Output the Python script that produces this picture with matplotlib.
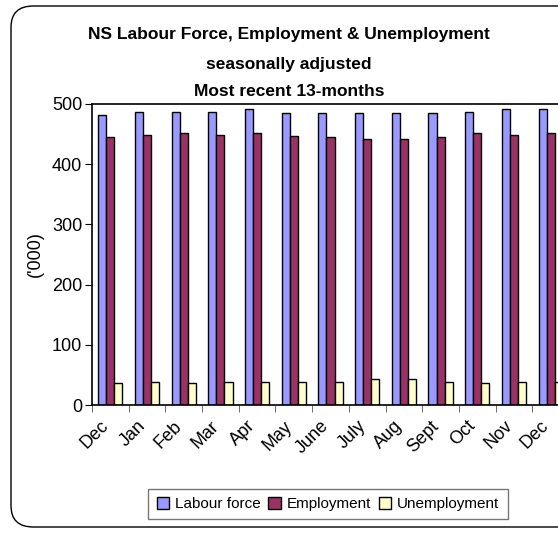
import numpy as np
import matplotlib
matplotlib.use("Agg")
from matplotlib import pyplot as plt
from matplotlib.patches import FancyBboxPatch, Patch

months = ["Dec", "Jan", "Feb", "Mar", "Apr", "May", "June", "July", "Aug", "Sept", "Oct", "Nov", "Dec"]
labour_force = [482, 487, 487, 487, 491, 485, 485, 485, 485, 485, 487, 491, 491]
employment = [446, 449, 452, 449, 452, 447, 446, 442, 442, 446, 452, 449, 452]
unemployment = [36, 39, 36, 39, 39, 39, 39, 43, 43, 39, 36, 39, 39]

plt.rcParams['font.family'] = ['Liberation Sans', 'DejaVu Sans']

W, H = 558, 533
fig = plt.figure(figsize=(W / 100, H / 100), dpi=100)

# rounded chart frame (right side runs off the picture)
frame = FancyBboxPatch((11 / W, 6 / H), 570 / W, 521 / H,
                       boxstyle="round,pad=0,rounding_size=0.04",
                       transform=fig.transFigure, fill=False,
                       edgecolor="black", linewidth=1.0)
fig.patches.append(frame)

ax = fig.add_axes([92 / W, (H - 405) / H, 477 / W, 301 / H])

x = np.arange(len(months))
w = 0.22
ax.bar(x - w, labour_force, w, color="#9999FF", edgecolor="black", linewidth=1)
ax.bar(x, employment, w, color="#993366", edgecolor="black", linewidth=1)
ax.bar(x + w, unemployment, w, color="#FFFFCC", edgecolor="black", linewidth=1)

ax.set_xlim(-0.5, len(months) - 0.5)
ax.set_ylim(0, 500)
ax.set_yticks(range(0, 501, 100))
ax.tick_params(axis="y", labelsize=13, direction="out", length=5, pad=2)

# labels sit a little left of the group centres, as in the original
ax.set_xticks(x - 0.28)
ax.set_xticklabels(months, rotation=45, ha="right", rotation_mode="anchor", fontsize=13)
ax.set_xticks(np.arange(-0.5, len(months), 1), minor=True)
ax.tick_params(axis="x", which="major", length=0, pad=9)
ax.tick_params(axis="x", which="minor", direction="out", length=5, color="#555555")

for s in ax.spines.values():
    s.set_linewidth(1.2)
ax.set_ylabel("('000)", fontsize=13, labelpad=6)

fig.text(289 / W, 1 - 35 / H, "NS Labour Force, Employment & Unemployment",
         ha="center", va="center", fontsize=12.5, fontweight="bold")
fig.text(289 / W, 1 - 65 / H, "seasonally adjusted",
         ha="center", va="center", fontsize=12.5, fontweight="bold")
fig.text(289 / W, 1 - 92 / H, "Most recent 13-months",
         ha="center", va="center", fontsize=12.5, fontweight="bold")

handles = [Patch(facecolor="#9999FF", edgecolor="black"),
           Patch(facecolor="#993366", edgecolor="black"),
           Patch(facecolor="#FFFFCC", edgecolor="black")]
leg = fig.legend(handles, ["Labour force", "Employment", "Unemployment"],
                 loc="center", bbox_to_anchor=(328 / W, 1 - 504 / H), ncol=3,
                 fontsize=11, frameon=True, fancybox=False, handlelength=0.8,
                 handleheight=0.8, handletextpad=0.4, columnspacing=0.5,
                 borderpad=0.55)
leg.get_frame().set_edgecolor("#555555")
leg.get_frame().set_linewidth(1)

fig.savefig("out.png", dpi=100)
